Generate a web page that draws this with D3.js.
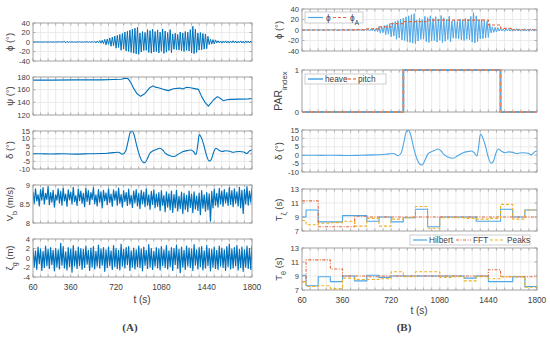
<!DOCTYPE html>
<html>
<head>
<meta charset="utf-8">
<script src="https://cdn.jsdelivr.net/npm/d3@7"></script>
<style>
  body { margin: 0; background: #fff; }
  svg text { font-family: "Liberation Sans", Arial, sans-serif; fill: #404040; }
</style>
</head>
<body>
<svg id="chart" width="550" height="337"></svg>
<script>
// ---- data ----
const xTickLabels = [60, 360, 720, 1080, 1440, 1800];

// roll angle, sampled every 10 s from 60 s to 1800 s
const phi = [
  0.3,-0.4,0.2,-0.3,0.4,-0.2,0.3,-0.5,0.2,-0.3,0.5,-0.4,0.3,-0.2,0.4,-0.3,0.2,-0.5,0.3,-0.2,0.4,-0.3,0.5,-0.4,0.3,
  1.5,-1.8,1.2,-1.0,
  0.4,-0.3,0.5,-0.4,0.2,-0.5,0.3,-0.2,0.6,-0.4,0.3,-0.5,0.4,-0.3,0.7,-0.6,0.5,-0.8,0.9,-0.7,
  1.5,-2.0,1.8,-1.4, 3.0,-2.5,3.5,-3.2, 5.5,-6.0,6.5,-5.0, 8.5,-9.0,10.0,-8.0,
  12.5,-13.0,14.0,-11.5, 16.0,-17.5,18.0,-15.0, 21.0,-19.0,22.5,-20.0, 25.0,-22.0,27.0,-23.5,
  29.0,-25.0,31.0,-26.0, 19.0,-21.0,22.0,-18.0,20.0,-17.5, 26.0,-22.0,24.0,-23.5,27.0,-21.0,
  22.0,-20.0,25.5,-23.0,21.0,-19.5,27.5,-24.0,23.0,-21.5,20.0,-18.0,26.0,-22.5,
  17.0,-15.5,18.5,-16.0,16.0,-17.0, 21.0,-18.5,19.0,-20.0,22.0,-17.5,20.5,-19.0,
  26.0,-23.0,33.0,-24.5,27.0,-22.0, 19.0,-17.0,20.0,-16.5,18.0,-15.0,17.0,-14.0,12.0,
  -5.5,6.0,-4.5,5.0,-4.0,4.5,
  -2.0,2.5,-1.8,2.2,-2.5,1.9,-1.6,2.4,-2.1,1.8,-2.3,2.0,-1.7,2.6,-1.9,2.1,-2.2,1.6,-1.8,2.3,-2.0,1.7,-2.4,2.2,-1.5,2.0,-2.1,1.8,-1.9
];

// ship speed, same sampling
const vb = [
  8.82,8.52,8.90,8.58,8.75,8.45,8.88,8.60,8.93,8.50,8.78,8.62,8.95,8.48,8.80,8.55,8.86,8.42,8.74,8.60,
  8.90,8.53,8.83,8.47,8.92,8.58,8.76,8.44,8.87,8.61,8.81,8.50,8.94,8.56,8.72,8.46,8.89,8.59,8.84,8.52,
  8.78,8.43,8.91,8.57,8.85,8.49,8.80,8.62,8.93,8.51,8.74,8.45,8.88,8.55,8.82,8.40,8.86,8.58,8.79,8.48,
  8.90,8.54,8.76,8.44,8.87,8.60,8.83,8.47,8.92,8.52,8.75,8.42,8.85,8.56,8.80,8.46,8.89,8.50,8.73,8.41,
  8.84,8.53,8.88,8.45,8.78,8.38,8.86,8.51,8.81,8.43,8.90,8.47,8.74,8.36,8.83,8.49,8.87,8.40,8.76,8.44,
  8.80,8.33,8.85,8.46,8.72,8.30,8.82,8.42,8.77,8.35,8.84,8.28,8.75,8.40,8.86,8.32,8.70,8.38,8.81,8.25,
  8.78,8.36,8.73,8.30,8.84,8.41,8.76,8.27,8.82,8.37,8.71,8.33,8.79,8.22,8.85,8.39,8.74,8.31,8.80,8.35,
  8.77,8.05,8.83,8.40,8.89,8.47,8.78,8.42,8.91,8.50,8.84,8.44,8.88,8.53,8.80,8.46,8.93,8.49,8.85,8.43,
  8.90,8.52,8.82,8.45,8.94,8.40,8.86,8.25,8.88,8.50,8.96,8.47,8.84,8.55,8.92
];

// wave elevation, same sampling
const zeta = [
  2.1,-1.8,1.5,-2.4,2.3,-1.2,1.9,-2.6,1.4,-2.0,2.5,-1.6,1.8,-2.2,2.2,-1.4,1.6,-2.7,2.0,-1.9,
  1.7,-2.3,3.1,-1.5,2.4,-2.1,1.3,-2.5,2.2,-1.8,1.9,-3.0,2.6,-1.7,1.5,-2.2,2.3,-1.6,2.0,-2.4,
  1.8,-2.0,2.5,-1.3,1.6,-2.6,2.1,-1.9,2.4,-2.3,1.4,-1.7,2.7,-2.1,1.9,-1.5,2.2,-2.8,1.7,-2.0,
  2.3,-1.6,1.5,-2.4,2.6,-1.8,2.0,-2.2,1.6,-2.5,2.9,-1.7,1.8,-2.1,2.2,-1.4,2.4,-2.6,1.5,-1.9,
  2.1,-2.3,1.7,-1.8,2.5,-2.0,1.9,-2.7,2.3,-1.5,1.6,-2.2,2.8,-1.9,2.0,-2.4,1.4,-1.7,2.2,-2.1,
  1.9,-2.5,2.4,-1.6,1.7,-2.0,2.6,-2.3,1.5,-1.8,2.2,-2.6,2.0,-1.4,2.7,-2.2,1.8,-3.1,2.3,-1.9,
  1.6,-2.4,2.5,-1.7,2.1,-2.0,1.9,-2.6,2.8,-1.5,1.7,-2.3,2.2,-1.8,2.4,-2.5,1.5,-2.1,2.6,-1.6,
  2.0,-2.7,1.8,-1.9,2.3,-2.2,1.6,-2.4,2.5,-1.7,2.1,-2.0,1.7,-2.6,2.4,-1.8,2.9,-2.3,1.9,-2.1,
  2.2,-1.6,2.6,-2.5,1.8,-2.0,2.3,-2.8,1.7,-1.9,2.5,-2.2,2.0,-2.4,2.6
];
const sampleTime = d3.range(60, 1801, 10);

// heading
const psiTime = [60,200,400,600,700,760,790,815,835,860,885,915,950,990,1016,1030,1056,1096,1135,1175,1228,1250,1281,1310,1334,1374,1400,1430,1453,1475,1493,1525,1550,1572,1600,1625,1705,1771,1800];
const psiVal  = [175,175,175.5,175.5,176,176.5,178,177.5,172,162,154,149.5,154,163.5,166,164,163,160.5,158.5,161.5,162.5,161,163.7,163,162,160.5,149,139,134,139,143.7,149,146,142.6,144,144.7,145,145.5,146];

// rudder angle
const deltaTime = [60,120,200,300,400,500,600,650,700,740,770,795,815,835,850,865,885,910,935,950,970,990,1010,1040,1068,1090,1110,1140,1180,1210,1253,1290,1315,1335,1355,1368,1381,1395,1413,1435,1460,1475,1495,1512,1535,1561,1590,1623,1650,1672,1700,1734,1758,1780,1800];
const deltaVal  = [0,0,-0.1,0,-0.2,0,0.2,0.4,0.8,1.0,-0.3,1.5,8,14.5,14.8,12,5,-2,-5.5,-5.8,-3,0.5,1.8,2.8,3.7,2.5,0.5,-1,-1.8,-0.5,1.5,2.2,2.5,1.5,-0.5,5,12.6,11,7,0,-4.8,-4,1,3.7,2.5,1.5,2.0,1.7,1.0,1.3,1.5,1.2,0.2,1.8,2.7];

// 90 s analysis windows (panel B)
const winEdges = [60,90,180,270,360,450,540,630,720,810,900,990,1080,1170,1260,1350,1440,1530,1620,1710,1800];
const phiAmp   = [0,0,0,0,0.3,0.8,2,6,12,16,16,19,19,19,19,19,9.5,3.2,0.5,0.5];
const parHeave = [0,0,0,0,0,0,0,0,0,1,1,1,1,1,1,1,1,0,0,0];
const parPitch = [0,0,0,0,0,0,0,0,0,1,1,1,1,1,1,1,1,0,0,0];
const tzHilbert = [9.0,10.0,8.3,8.3,9.2,9.2,8.4,9.0,8.3,8.9,10.1,7.6,9.0,9.0,9.0,8.4,8.4,10.1,9.0,10.0];
const tzFFT     = [11.3,11.3,7.6,7.6,7.6,9.1,9.0,9.0,9.0,9.0,9.0,9.0,9.0,9.0,9.0,9.0,9.0,9.0,9.0,9.0];
const tzPeaks   = [8.5,7.9,8.1,8.2,8.4,7.7,8.8,7.7,8.7,8.9,10.5,7.4,8.9,8.9,8.8,8.7,8.8,10.8,8.7,10.0];
const ttHilbert = [9.1,7.6,8.9,8.2,9.0,8.3,9.1,8.8,9.0,9.0,9.0,9.0,9.0,9.0,8.7,9.0,8.2,8.2,8.9,7.5];
const ttFFT     = [8.2,11.3,11.3,10.0,9.0,9.0,8.9,9.0,9.0,9.0,9.0,9.0,9.0,9.0,9.0,9.0,9.9,8.9,8.9,8.9];
const ttPeaks   = [8.2,7.5,7.6,7.2,8.7,8.5,8.5,8.6,9.6,8.9,9.6,9.6,8.8,8.9,8.3,8.9,8.6,8.9,8.9,7.4];

// ---- drawing ----
const svg = d3.select('#chart');
const blue = '#0072BD', lightBlue = '#4DA6E6', orange = '#E8653A', yellow = '#EDB120';

const colA = { x0: 33, x1: 252 };
const colB = { x0: 302, x1: 537 };
let clipId = 0;

function makePanel(col, top, h, yDomain, yTicks) {
  const x = d3.scaleLinear().domain([60, 1800]).range([col.x0, col.x1]);
  const y = d3.scaleLinear().domain(yDomain).range([top + h, top]);
  const g = svg.append('g');

  // grid
  g.selectAll('.vg').data(d3.range(60, 1801, 60)).join('line')
    .attr('x1', d => x(d)).attr('x2', d => x(d))
    .attr('y1', top).attr('y2', top + h)
    .attr('stroke', '#e6e6e6').attr('stroke-width', 0.8);
  g.selectAll('.hg').data(yTicks).join('line')
    .attr('x1', col.x0).attr('x2', col.x1)
    .attr('y1', d => y(d)).attr('y2', d => y(d))
    .attr('stroke', '#e6e6e6').attr('stroke-width', 0.8);

  // inner ticks
  const tk = g.append('g').attr('stroke', '#9a9a9a').attr('stroke-width', 0.7);
  d3.range(60, 1801, 60).forEach(t => {
    tk.append('line').attr('x1', x(t)).attr('x2', x(t)).attr('y1', top + h).attr('y2', top + h - 2.5);
    tk.append('line').attr('x1', x(t)).attr('x2', x(t)).attr('y1', top).attr('y2', top + 2.5);
  });
  yTicks.forEach(v => {
    tk.append('line').attr('x1', col.x0).attr('x2', col.x0 + 2.5).attr('y1', y(v)).attr('y2', y(v));
    tk.append('line').attr('x1', col.x1).attr('x2', col.x1 - 2.5).attr('y1', y(v)).attr('y2', y(v));
  });

  // y tick labels
  g.selectAll('.yl').data(yTicks).join('text')
    .attr('x', col.x0 - 3).attr('y', d => y(d) + 2.6)
    .attr('text-anchor', 'end').attr('font-size', 7.6)
    .text(d => d);

  const id = 'clip' + (clipId++);
  svg.append('clipPath').attr('id', id).append('rect')
    .attr('x', col.x0).attr('y', top - 1.5).attr('width', col.x1 - col.x0).attr('height', h + 3);
  const plot = svg.append('g').attr('clip-path', `url(#${id})`);

  const box = () => svg.append('rect')
    .attr('x', col.x0).attr('y', top).attr('width', col.x1 - col.x0).attr('height', h)
    .attr('fill', 'none').attr('stroke', '#9a9a9a').attr('stroke-width', 0.8);

  return { x, y, g, plot, box, top, h, col };
}

function yLabel(p, xPos, parts, size) {
  const fs = size || 9.5;
  const t = svg.append('text')
    .attr('transform', `translate(${xPos},${p.top + p.h / 2}) rotate(-90)`)
    .attr('text-anchor', 'middle').attr('font-size', fs).attr('fill', '#262626');
  parts.forEach(pt => {
    const s = t.append('tspan').text(pt.t);
    if (pt.sub) s.attr('baseline-shift', 'sub').attr('font-size', fs * 0.75);
  });
}

function xLabels(p, yPos) {
  svg.selectAll(null).data(xTickLabels).join('text')
    .attr('x', d => p.x(d)).attr('y', yPos)
    .attr('text-anchor', 'middle').attr('font-size', 8.3)
    .text(d => d);
}

function drawLine(p, xs, ys, color, width, dash, curve) {
  const pts = xs.map((t, i) => [t, ys[i]]);
  const line = d3.line().x(d => p.x(d[0])).y(d => p.y(d[1])).curve(curve || d3.curveLinear);
  const path = p.plot.append('path').datum(pts)
    .attr('d', line).attr('fill', 'none')
    .attr('stroke', color).attr('stroke-width', width)
    .attr('stroke-linejoin', 'round');
  if (dash) path.attr('stroke-dasharray', dash);
  return path;
}

function drawStep(p, vals, color, width, dash) {
  const ys = vals.concat([vals[vals.length - 1]]);
  return drawLine(p, winEdges, ys, color, width, dash, d3.curveStepAfter);
}

function legend(x, y, w, h, items) {
  const g = svg.append('g');
  g.append('rect').attr('x', x).attr('y', y).attr('width', w).attr('height', h)
    .attr('fill', '#fff').attr('stroke', '#c0c0c0').attr('stroke-width', 0.8);
  items.forEach(it => {
    const ln = g.append('line').attr('x1', it.lx0).attr('x2', it.lx1)
      .attr('y1', y + h / 2).attr('y2', y + h / 2)
      .attr('stroke', it.color).attr('stroke-width', it.width || 1.2);
    if (it.dash) ln.attr('stroke-dasharray', it.dash);
    const t = g.append('text').attr('x', it.tx).attr('y', y + h / 2 + 3)
      .attr('font-size', 8.3).attr('fill', '#262626');
    it.parts.forEach(pt => {
      const s = t.append('tspan').text(pt.t);
      if (pt.sub) s.attr('baseline-shift', 'sub').attr('font-size', 6.3);
    });
  });
}

// ---- column A ----
const a1 = makePanel(colA, 23, 38, [-40, 40], [-40, -20, 0, 20, 40]);
drawLine(a1, sampleTime, phi, blue, 1);
a1.box();
yLabel(a1, 13, [{ t: 'ϕ (°)' }]);

const a2 = makePanel(colA, 77, 38, [120, 180], [120, 140, 160, 180]);
drawLine(a2, psiTime, psiVal, blue, 1.1);
a2.box();
yLabel(a2, 13, [{ t: 'ψ (°)' }]);

const a3 = makePanel(colA, 131, 38, [-10, 15], [-10, -5, 0, 5, 10, 15]);
drawLine(a3, deltaTime, deltaVal, blue, 1.1, null, d3.curveMonotoneX);
a3.box();
yLabel(a3, 13, [{ t: 'δ (°)' }]);

const a4 = makePanel(colA, 185, 38, [8, 9], [8, 8.5, 9]);
drawLine(a4, sampleTime, vb, blue, 1.2);
a4.box();
yLabel(a4, 13, [{ t: 'V' }, { t: 'b', sub: true }, { t: ' (m/s)' }]);

const a5 = makePanel(colA, 239, 38, [-4, 4], [-4, -2, 0, 2, 4]);
drawLine(a5, sampleTime, zeta, blue, 1.2);
a5.box();
yLabel(a5, 13, [{ t: 'ζ' }, { t: 'g', sub: true }, { t: ' (m)' }]);
xLabels(a5, 290);
svg.append('text').attr('x', 142).attr('y', 303).attr('text-anchor', 'middle')
  .attr('font-size', 10).text('t (s)');
svg.append('text').attr('x', 130).attr('y', 331).attr('text-anchor', 'middle')
  .attr('font-size', 11).attr('font-weight', 'bold').attr('fill', '#000')
  .style('font-family', '"Liberation Serif", "Times New Roman", serif').text('(A)');

// ---- column B ----
const b1 = makePanel(colB, 9, 42, [-40, 40], [-40, -20, 0, 20, 40]);
drawLine(b1, sampleTime, phi, lightBlue, 1);
drawStep(b1, phiAmp, orange, 1.2, '3,2');
b1.box();
yLabel(b1, 282, [{ t: 'ϕ (°)' }]);
legend(305, 12, 58, 11, [
  { lx0: 308, lx1: 323, color: lightBlue, tx: 326, parts: [{ t: 'ϕ' }] },
  { lx0: 333, lx1: 348, color: orange, dash: '3,2', tx: 350, parts: [{ t: 'ϕ' }, { t: 'A', sub: true }] }
]);

const b2 = makePanel(colB, 70, 42, [0, 1], [0, 1]);
drawStep(b2, parHeave, lightBlue, 2);
drawStep(b2, parPitch, '#F0875E', 2, '4,3');
b2.box();
yLabel(b2, 282, [{ t: 'PAR' }, { t: 'index', sub: true }], 10.5);
legend(305, 74, 81, 10, [
  { lx0: 308, lx1: 323, color: lightBlue, width: 1.5, tx: 325, parts: [{ t: 'heave' }] },
  { lx0: 343, lx1: 357, color: '#F0875E', width: 1.5, dash: '3,2', tx: 358, parts: [{ t: 'pitch' }] }
]);

const b3 = makePanel(colB, 130, 42, [-10, 15], [-10, -5, 0, 5, 10, 15]);
drawLine(b3, deltaTime, deltaVal, lightBlue, 1.1, null, d3.curveMonotoneX);
b3.box();
yLabel(b3, 282, [{ t: 'δ (°)' }]);

const b4 = makePanel(colB, 189, 42, [7, 13], [7, 9, 11, 13]);
drawStep(b4, tzHilbert, lightBlue, 1.1);
drawStep(b4, tzFFT, orange, 1.1, '3,1.5,1,1.5');
drawStep(b4, tzPeaks, yellow, 1.1, '3,2');
b4.box();
yLabel(b4, 282, [{ t: 'T' }, { t: 'ζ', sub: true }, { t: ' (s)' }]);

const b5 = makePanel(colB, 248, 42, [7, 13], [7, 9, 11, 13]);
drawStep(b5, ttHilbert, lightBlue, 1.1);
drawStep(b5, ttFFT, orange, 1.1, '3,1.5,1,1.5');
drawStep(b5, ttPeaks, yellow, 1.1, '3,2');
b5.box();
yLabel(b5, 282, [{ t: 'T' }, { t: 'θ', sub: true }, { t: ' (s)' }]);
legend(410, 235, 120, 10, [
  { lx0: 413, lx1: 427, color: lightBlue, tx: 429, parts: [{ t: 'Hilbert' }] },
  { lx0: 456, lx1: 471, color: orange, dash: '3,1.5,1,1.5', tx: 473, parts: [{ t: 'FFT' }] },
  { lx0: 490, lx1: 505, color: yellow, dash: '3,2', tx: 507, parts: [{ t: 'Peaks' }] }
]);
xLabels(b5, 303);
svg.append('text').attr('x', 419).attr('y', 314).attr('text-anchor', 'middle')
  .attr('font-size', 10).text('t (s)');
svg.append('text').attr('x', 404).attr('y', 331).attr('text-anchor', 'middle')
  .attr('font-size', 11).attr('font-weight', 'bold').attr('fill', '#000')
  .style('font-family', '"Liberation Serif", "Times New Roman", serif').text('(B)');
</script>
</body>
</html>
